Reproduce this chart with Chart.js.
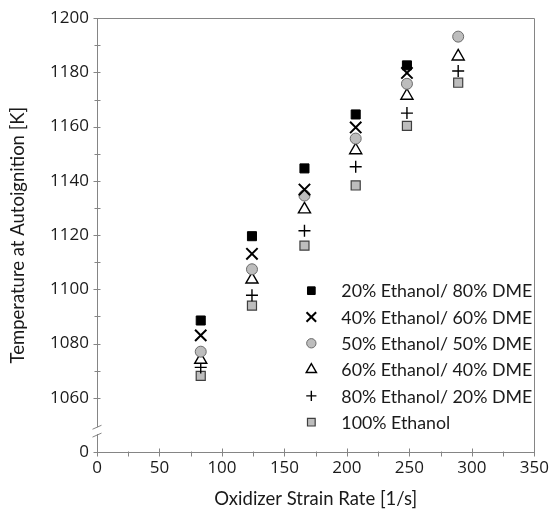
<!DOCTYPE html>
<html>
<head>
<meta charset="utf-8">
<script src="https://cdn.jsdelivr.net/npm/chart.js@4.4.1/dist/chart.umd.min.js"></script>
<style>
  html, body { margin: 0; padding: 0; background: #fff; }
  #wrap { width: 555px; height: 513px; }
</style>
</head>
<body>
<div id="wrap"><canvas id="c" width="555" height="513"></canvas></div>
<script>
// ---- data ----
const strainRates = [83, 124, 166, 207, 248, 289];
const seriesLabels = [
  '20% Ethanol/ 80% DME',
  '40% Ethanol/ 60% DME',
  '50% Ethanol/ 50% DME',
  '60% Ethanol/ 40% DME',
  '80% Ethanol/ 20% DME',
  '100% Ethanol'
];
const eth20 = [1088.5, 1119.6, 1144.6, 1164.5, 1182.6, null];
const eth40 = [1083.0, 1113.1, 1136.8, 1159.7, 1179.8, null];
const eth50 = [1077.0, 1107.4, 1134.6, 1155.6, 1175.8, 1193.2];
const eth60 = [1074.0, 1103.6, 1129.5, 1151.3, 1171.4, 1185.9];
const eth80 = [1071.2, 1097.8, 1121.6, 1145.2, 1165.0, 1180.5];
const eth100 = [1068.1, 1094.0, 1116.1, 1138.3, 1160.3, 1176.2];
const xTicks = [0, 50, 100, 150, 200, 250, 300, 350];
const yTickLabels = ['0', '1060', '1080', '1100', '1120', '1140', '1160', '1180', '1200'];
// axis break: value 1040 on the scale stands for 0
const yBreakBase = 1040;

const TICKFONT = '"Open Sans", Lato, sans-serif';
const FONT = 'Lato, "Open Sans", sans-serif';
const TXT = '#1a1a1a';
const AXC = '#858585';

const styles = [
  { pointStyle: 'rect', radius: 6.4, backgroundColor: '#000', borderColor: '#000', borderWidth: 1 },
  { pointStyle: 'crossRot', radius: 8, backgroundColor: '#000', borderColor: '#000', borderWidth: 2 },
  { pointStyle: 'circle', radius: 5.5, backgroundColor: '#bdbdbd', borderColor: '#6a6a6a', borderWidth: 1 },
  { pointStyle: 'triangle', radius: 7, backgroundColor: '#fff', borderColor: '#000', borderWidth: 1.4 },
  { pointStyle: 'cross', radius: 6, backgroundColor: '#000', borderColor: '#000', borderWidth: 1.4 },
  { pointStyle: 'rect', radius: 6.4, backgroundColor: '#bdbdbd', borderColor: '#3f3f3f', borderWidth: 1.2 }
];
const allSeries = [eth20, eth40, eth50, eth60, eth80, eth100];

const datasets = allSeries.map((s, i) => ({
  label: seriesLabels[i],
  data: strainRates.map((x, k) => (s[k] == null ? null : { x: x, y: s[k] })).filter(p => p),
  showLine: false,
  pointStyle: styles[i].pointStyle,
  pointRadius: styles[i].radius,
  pointHoverRadius: styles[i].radius,
  pointBackgroundColor: styles[i].backgroundColor,
  pointBorderColor: styles[i].borderColor,
  pointBorderWidth: styles[i].borderWidth,
  clip: false
}));

const decor = {
  id: 'decor',
  afterDraw(chart) {
    const ctx = chart.ctx;
    const xs = chart.scales.x, ys = chart.scales.y;
    const a = chart.chartArea;
    const x0 = Math.round(a.left) + 0.5, y0 = Math.round(a.bottom) + 0.5;
    const xr = Math.round(a.right) + 0.5, yt = Math.round(a.top) + 0.5;
    ctx.save();
    ctx.strokeStyle = AXC;
    ctx.lineWidth = 1;
    // frame top & right
    ctx.beginPath();
    ctx.moveTo(x0, yt); ctx.lineTo(xr, yt); ctx.lineTo(xr, y0);
    ctx.stroke();
    // x ticks
    ctx.beginPath();
    for (let v = 0; v <= 350; v += 25) {
      const px = Math.round(xs.getPixelForValue(v)) + 0.5;
      if (v % 50 === 0) { ctx.moveTo(px, y0 - 4); ctx.lineTo(px, y0 + 4); }
      else { ctx.moveTo(px, y0 - 1); ctx.lineTo(px, y0 + 4); }
    }
    // y ticks
    for (let v = 1040; v <= 1200; v += 10) {
      const py = Math.round(ys.getPixelForValue(v)) + 0.5;
      if (v === 1050) continue;
      if (v % 20 === 0) { ctx.moveTo(x0 - 4, py); ctx.lineTo(x0 + 3, py); }
      else { ctx.moveTo(x0 - 3, py); ctx.lineTo(x0 + 3, py); }
    }
    ctx.stroke();
    // axis break
    const b1 = ys.getPixelForValue(1049.5), b2 = ys.getPixelForValue(1046.6);
    ctx.fillStyle = '#fff';
    ctx.fillRect(x0 - 2, b1 + 1, 4, b2 - b1 - 1);
    ctx.beginPath();
    ctx.moveTo(x0 - 5, b1 + 3); ctx.lineTo(x0 + 4, b1 - 1);
    ctx.moveTo(x0 - 5, b2 + 3); ctx.lineTo(x0 + 4, b2 - 1);
    ctx.stroke();
    // legend
    const lx = xs.getPixelForValue(171.5);
    const tx = xs.getPixelForValue(195.5);
    ctx.font = '17.8px ' + FONT;
    ctx.textBaseline = 'middle';
    ctx.textAlign = 'left';
    seriesLabels.forEach((lab, i) => {
      const ly = ys.getPixelForValue(1099.5 - i * 9.7);
      const st = styles[i];
      ctx.fillStyle = st.backgroundColor;
      ctx.strokeStyle = st.borderColor;
      ctx.lineWidth = st.borderWidth;
      Chart.helpers.drawPoint(ctx, { pointStyle: st.pointStyle, radius: st.radius * 0.85, rotation: 0, borderWidth: st.borderWidth }, lx, ly);
      ctx.fillStyle = TXT;
      ctx.fillText(lab, tx, ly + 1);
    });
    ctx.restore();
  }
};

new Chart(document.getElementById('c'), {
  type: 'scatter',
  data: { datasets },
  options: {
    responsive: false,
    animation: false,
    events: [],
    layout: { padding: { left: 0, top: 15, right: 18, bottom: 0 } },
    plugins: { legend: { display: false }, tooltip: { enabled: false } },
    scales: {
      x: {
        type: 'linear', min: 0, max: 350,
        afterBuildTicks: s => { s.ticks = xTicks.map(v => ({ value: v })); },
        afterFit: s => { s.height = 61; },
        ticks: { font: { family: TICKFONT, size: 17 }, color: TXT, padding: 6, maxRotation: 0 },
        grid: { display: false, drawTicks: false },
        border: { display: true, color: AXC, width: 1 },
        title: { display: true, text: 'Oxidizer Strain Rate [1/s]', color: TXT, font: { family: FONT, size: 18.5 }, padding: { top: 0, bottom: 3 } }
      },
      y: {
        type: 'linear', min: yBreakBase, max: 1200,
        afterBuildTicks: s => { s.ticks = yTickLabels.map((t, i) => ({ value: i === 0 ? yBreakBase : Number(t) })); },
        afterFit: s => { s.width = 97; },
        ticks: {
          font: { family: TICKFONT, size: 17 }, color: TXT, padding: 8,
          callback: (v, i) => yTickLabels[i]
        },
        grid: { display: false, drawTicks: false },
        border: { display: true, color: AXC, width: 1 },
        title: { display: true, text: 'Temperature at Autoignition [K]', color: TXT, font: { family: FONT, size: 18.5 }, padding: { top: 7, bottom: 0 } }
      }
    }
  },
  plugins: [decor]
});
</script>
</body>
</html>
